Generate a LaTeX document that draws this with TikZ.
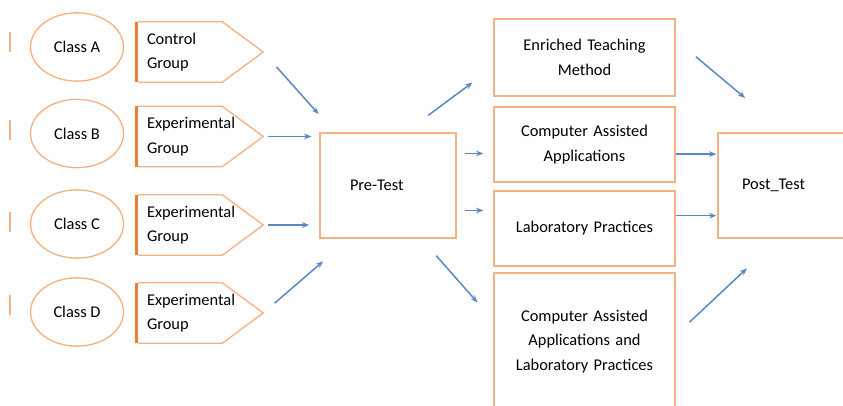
\documentclass[tikz,border=0pt]{standalone}
\usepackage{fontspec}
\setmainfont{Carlito}
\usetikzlibrary{shapes.geometric,arrows.meta}

\definecolor{boxorange}{HTML}{F4B183}
\definecolor{edgeorange}{HTML}{ED7D31}
\definecolor{arrowblue}{HTML}{5B87C3}

\tikzset{
  classnode/.style={draw=boxorange, line width=0.04cm, ellipse, minimum width=2.79cm, minimum height=2.05cm, inner sep=0pt},
  groupnode/.style={minimum width=3.78cm, minimum height=1.8cm, text width=3.18cm, inner xsep=0.3cm, inner ysep=0pt, align=left},
  groupline/.style={draw=boxorange, line width=0.04cm, line join=round},
  groupedge/.style={draw=edgeorange, line width=0.09cm},
  testbox/.style={draw=boxorange, line width=0.04cm, minimum width=4.08cm, minimum height=3.15cm, align=left},
  methodbox/.style={draw=boxorange, line width=0.04cm, minimum width=5.43cm, text width=5.2cm, align=center, inner sep=0pt},
  flow/.style={draw=arrowblue, line width=0.045cm, -{Stealth[length=0.22cm,width=0.17cm]}},
}

\begin{document}
\begin{tikzpicture}[font=\fontsize{14}{21}\selectfont]
                \useasboundingbox (0,0) rectangle (25.290000,12.150000);
                \clip (0,0) rectangle (25.290000,12.150000);

                % Cut-off shapes at the left border
                \foreach \y in {10.900000,8.250000,5.500000,3.000000}
                  \draw [boxorange, line width=0.04cm] (0.300000,\y+0.300000) -- (0.300000,\y-0.300000);%

                % Drawing the classes
                \node [classnode] (cA) at (2.310000,10.740000) {Class A};%
                \node [classnode] (cB) at (2.310000,8.145000) {Class B};%
                \node [classnode] (cC) at (2.310000,5.430000) {Class C};%
                \node [classnode] (cD) at (2.310000,2.790000) {Class D};%

                % Drawing the groups
                \node [groupnode] (gA) at (6.000000,10.590000) {Control\\Group};%
                \node [groupnode] (gB) at (6.000000,8.055000) {Experimental\\Group};%
                \node [groupnode] (gC) at (6.000000,5.400000) {Experimental\\Group};%
                \node [groupnode] (gD) at (6.000000,2.760000) {Experimental\\Group};%
                \foreach \g in {gA,gB,gC,gD}{
                  \draw [groupline] ([xshift=0.04cm]\g.north west) -- ([xshift=-1.230000cm]\g.north east) -- (\g.east) -- ([xshift=-1.230000cm]\g.south east) -- ([xshift=0.04cm]\g.south west);%
                  \draw [groupedge] (\g.north west) -- (\g.south west);%
                }

                % Drawing the tests
                \node [testbox, text width=2.280000cm, inner xsep=0.900000cm] (pre) at (11.640000,6.585000) {Pre-Test};%
                \node [testbox, text width=2.640000cm, inner xsep=0.720000cm] (post) at (23.580000,6.585000) {Post\_Test};%

                % Drawing the methods
                \node [methodbox, minimum height=2.310000cm] (mA) at (17.535000,10.425000) {Enriched Teaching\\Method};%
                \node [methodbox, minimum height=2.250000cm] (mB) at (17.535000,7.815000) {Computer Assisted\\Applications};%
                \node [methodbox, minimum height=2.250000cm] (mC) at (17.535000,5.295000) {Laboratory Practices};%
                \node [methodbox, minimum height=4.110000cm] (mD) at (17.535000,1.905000) {Computer Assisted\\Applications and\\Laboratory Practices};%

                % Arrows groups -> pre-test
                \draw [flow, shorten <=0.60cm, shorten >=0.73cm] (gA.east) -- (pre.135);%
                \draw [flow, shorten <=0.15cm, shorten >=0.24cm] (gB.east) -- (gB.east -| pre.west);%
                \draw [flow, shorten <=0.15cm, shorten >=0.30cm] (gC.east) -- (gC.east -| pre.west);%
                \draw [flow, shorten <=0.45cm, shorten >=1.04cm] (gD.east) -- (pre.234);%

                % Arrows pre-test -> methods
                \draw [flow, shorten <=0.86cm, shorten >=0.78cm] (pre.72) -- (mA.186);%
                \draw [flow, shorten <=0.24cm, shorten >=0.30cm] (pre.25) -- (pre.25 -| mB.west);%
                \draw [flow, shorten <=0.24cm, shorten >=0.30cm] (pre.-20) -- (pre.-20 -| mC.west);%
                \draw [flow, shorten <=0.68cm, shorten >=0.72cm] (pre.-58) -- (mD.167);%

                % Arrows methods -> post-test
                \draw [flow, shorten <=0.79cm, shorten >=1.60cm] (mA.11) -- (post.north);%
                \draw [flow, shorten >=0.03cm] (mB.-6) -- (mB.-6 -| post.west);%
                \draw [flow, shorten >=0.03cm] (mC.8) -- (mC.8 -| post.west);%
                \draw [flow, shorten <=0.57cm, shorten >=1.30cm] (mD.4) -- (post.262);%
            \end{tikzpicture}
\end{document}
